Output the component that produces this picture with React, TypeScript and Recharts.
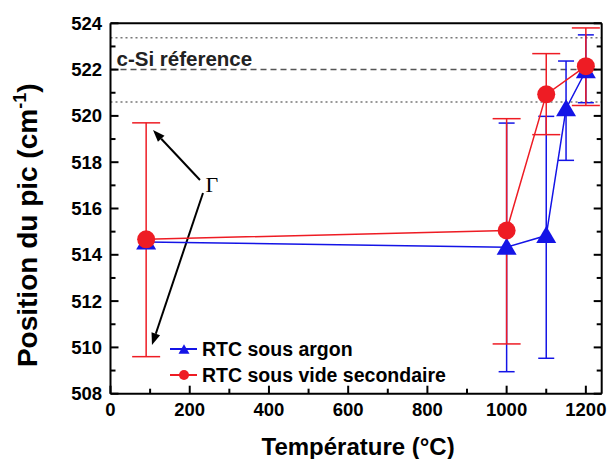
import React from 'react';
import {
  LineChart, Line, XAxis, YAxis, ErrorBar, ReferenceLine, ReferenceDot, Legend
} from 'recharts';

const FONT = "'Liberation Sans', Arial, sans-serif";
const RED = '#ee1c24';
const BLUE = '#1414e6';

// RTC sous argon
const tempArgon = [90, 1000, 1100, 1150, 1200];
const posArgon = [514.55, 514.33, 514.83, 520.31, 521.95];
const errArgonLow = [0, 5.38, 5.3, 2.23, 1.38];
const errArgonHigh = [0, 5.36, 5.15, 2.06, 1.55];

// RTC sous vide secondaire
const tempVide = [90, 1000, 1100, 1200];
const posVide = [514.67, 515.05, 520.93, 522.15];
const errVideLow = [5.07, 4.9, 1.74, 1.7];
const errVideHigh = [5.03, 4.83, 1.76, 1.65];

// c-Si reference band
const refCenter = 522.0;
const refUpper = 523.38;
const refLower = 520.6;

const xTicks = [0, 100, 200, 300, 400, 500, 600, 700, 800, 900, 1000, 1100, 1200];
const yTicks = [508, 509, 510, 511, 512, 513, 514, 515, 516, 517, 518, 519, 520, 521, 522, 523, 524];

// Gamma annotation: arrows from label to the error bar caps
const gammaPos = { x: 256, y: 516.71 };
const arrowUp = [{ x: 225.9, y: 517.23 }, { x: 107.3, y: 519.39 }];
const arrowDown = [{ x: 233.5, y: 516.67 }, { x: 104.7, y: 510.1 }];

const argonData = tempArgon.map((t, i) => ({ t, pos: posArgon[i], err: [errArgonLow[i], errArgonHigh[i]] }));
const videData = tempVide.map((t, i) => ({ t, pos: posVide[i], err: [errVideLow[i], errVideHigh[i]] }));

const Triangle = ({ cx, cy, fill, s = 1 }: any) => (
  <polygon
    points={`${cx},${cy - 9.5 * s} ${cx - 10 * s},${cy + 7.5 * s} ${cx + 10 * s},${cy + 7.5 * s}`}
    fill={fill}
  />
);

const BottomTick = ({ x, y, payload }: any) => {
  const major = payload.value % 200 === 0;
  return (
    <g>
      <line x1={x} y1={y} x2={x} y2={y - (major ? 8 : 5)} stroke="#000" strokeWidth={2} />
      {major && (
        <text x={x} y={y + 22} textAnchor="middle" fontFamily={FONT} fontWeight="bold" fontSize={18.5} fill="#000">
          {payload.value}
        </text>
      )}
    </g>
  );
};

const TopTick = ({ x, y, payload }: any) => {
  const major = payload.value % 200 === 0;
  return <line x1={x} y1={y} x2={x} y2={y + (major ? 8 : 5)} stroke="#000" strokeWidth={2} />;
};

const LeftTick = ({ x, y, payload }: any) => {
  const major = payload.value % 2 === 0;
  return (
    <g>
      <line x1={x} y1={y} x2={x + (major ? 8 : 5)} y2={y} stroke="#000" strokeWidth={2} />
      {major && (
        <text x={x - 8.5} y={y + 6.5} textAnchor="end" fontFamily={FONT} fontWeight="bold" fontSize={18.5} fill="#000">
          {payload.value}
        </text>
      )}
    </g>
  );
};

const RightTick = ({ x, y, payload }: any) => {
  const major = payload.value % 2 === 0;
  return <line x1={x} y1={y} x2={x - (major ? 8 : 5)} y2={y} stroke="#000" strokeWidth={2} />;
};

const Arrow = ({ x1, y1, x2, y2 }: any) => {
  const dx = x2 - x1;
  const dy = y2 - y1;
  const len = Math.sqrt(dx * dx + dy * dy);
  const ux = dx / len;
  const uy = dy / len;
  const head = 12;
  const half = 4.5;
  const bx = x2 - ux * head;
  const by = y2 - uy * head;
  return (
    <g>
      <line x1={x1} y1={y1} x2={bx} y2={by} stroke="#000" strokeWidth={2} />
      <polygon
        points={`${x2},${y2} ${bx - uy * half},${by + ux * half} ${bx + uy * half},${by - ux * half}`}
        fill="#000"
      />
    </g>
  );
};

const LegendContent = ({ payload }: any) => (
  <div style={{ fontFamily: FONT, fontWeight: 'bold', fontSize: 19.5, color: '#000' }}>
    {(payload || []).map((entry: any) => (
      <div key={entry.value} style={{ display: 'flex', alignItems: 'center', height: 26 }}>
        <svg width={32} height={26}>
          <line x1={0} y1={13} x2={27} y2={13} stroke={entry.color} strokeWidth={2} />
          {entry.value === 'RTC sous argon' ? (
            <Triangle cx={14} cy={13.5} fill={entry.color} s={0.55} />
          ) : (
            <circle cx={14} cy={13} r={5} fill={entry.color} />
          )}
        </svg>
        <span style={{ whiteSpace: 'nowrap' }}>{entry.value}</span>
      </div>
    ))}
  </div>
);

export default function App() {
  return (
    <div style={{ position: 'absolute', left: 0, top: 0, width: 609, height: 459, background: '#fff' }}>
      <LineChart width={609} height={459} margin={{ top: 23.3, right: 7.3, bottom: 35.3, left: 50.5 }}>
        <XAxis
          xAxisId={0}
          dataKey="t"
          type="number"
          domain={[0, 1240]}
          allowDataOverflow
          ticks={xTicks}
          interval={0}
          height={30}
          tickSize={0}
          tickMargin={0}
          tickLine={false}
          tick={<BottomTick />}
          axisLine={{ stroke: '#000', strokeWidth: 2 }}
          label={{
            content: (p: any) => (
              <text
                x={p.viewBox.x + p.viewBox.width / 2 + 2}
                y={p.viewBox.y + 61}
                textAnchor="middle"
                fontFamily={FONT}
                fontWeight="bold"
                fontSize={24}
                fill="#000"
              >
                Température (°C)
              </text>
            ),
          }}
        />
        <XAxis
          xAxisId="top"
          orientation="top"
          mirror
          type="number"
          domain={[0, 1240]}
          allowDataOverflow
          ticks={xTicks}
          interval={0}
          tickSize={0}
          tickMargin={0}
          tickLine={false}
          tick={<TopTick />}
          axisLine={{ stroke: '#000', strokeWidth: 2 }}
        />
        <YAxis
          yAxisId={0}
          type="number"
          domain={[508, 524]}
          allowDataOverflow
          ticks={yTicks}
          interval={0}
          width={60}
          tickSize={0}
          tickMargin={0}
          tickLine={false}
          tick={<LeftTick />}
          axisLine={{ stroke: '#000', strokeWidth: 2 }}
          label={{
            content: (p: any) => {
              const cx = 37;
              const cy = p.viewBox.y + 202;
              return (
                <text
                  x={cx}
                  y={cy}
                  transform={`rotate(-90 ${cx} ${cy})`}
                  textAnchor="middle"
                  fontFamily={FONT}
                  fontWeight="bold"
                  fontSize={28}
                  fill="#000"
                >
                  <tspan>Position du pic (cm</tspan>
                  <tspan dy={-11} fontSize={18}>-1</tspan>
                  <tspan dy={11}>)</tspan>
                </text>
              );
            },
          }}
        />
        <YAxis
          yAxisId="right"
          orientation="right"
          mirror
          type="number"
          domain={[508, 524]}
          allowDataOverflow
          ticks={yTicks}
          interval={0}
          tickSize={0}
          tickMargin={0}
          tickLine={false}
          tick={<RightTick />}
          axisLine={{ stroke: '#000', strokeWidth: 2 }}
        />

        <ReferenceLine y={refUpper} stroke="#777" strokeWidth={1.5} strokeDasharray="2 3" />
        <ReferenceLine
          y={refCenter}
          stroke="#555"
          strokeWidth={1.5}
          strokeDasharray="6 4"
          label={{
            content: (p: any) => (
              <text
                x={p.viewBox.x + 6}
                y={p.viewBox.y - 4}
                fontFamily={FONT}
                fontWeight="bold"
                fontSize={20.5}
                fill="#222"
              >
                c-Si réference
              </text>
            ),
          }}
        />
        <ReferenceLine y={refLower} stroke="#777" strokeWidth={1.5} strokeDasharray="2 3" />

        <ReferenceLine segment={arrowUp} shape={<Arrow />} />
        <ReferenceLine segment={arrowDown} shape={<Arrow />} />
        <ReferenceDot
          x={gammaPos.x}
          y={gammaPos.y}
          r={0}
          shape={(p: any) => (
            <text x={p.cx} y={p.cy} textAnchor="middle" fontFamily="'Liberation Serif', 'DejaVu Serif', serif" fontSize={22} fill="#000">
              Γ
            </text>
          )}
        />

        <Line
          data={argonData}
          dataKey="pos"
          name="RTC sous argon"
          stroke={BLUE}
          strokeWidth={1.5}
          isAnimationActive={false}
          dot={(p: any) => <Triangle key={`a-${p.index}`} cx={p.cx} cy={p.cy} fill={BLUE} />}
        >
          <ErrorBar dataKey="err" direction="y" width={8} stroke={BLUE} strokeWidth={1.5} isAnimationActive={false} />
        </Line>
        <Line
          data={videData}
          dataKey="pos"
          name="RTC sous vide secondaire"
          stroke={RED}
          strokeWidth={1.5}
          isAnimationActive={false}
          dot={(p: any) => <circle key={`v-${p.index}`} cx={p.cx} cy={p.cy} r={9} fill={RED} />}
        >
          <ErrorBar dataKey="err" direction="y" width={14} stroke={RED} strokeWidth={1.5} isAnimationActive={false} />
        </Line>

        <Legend
          layout="vertical"
          align="center"
          verticalAlign="middle"
          content={<LegendContent />}
          wrapperStyle={{ left: 170, top: 336, width: 'auto' }}
        />
      </LineChart>
    </div>
  );
}
